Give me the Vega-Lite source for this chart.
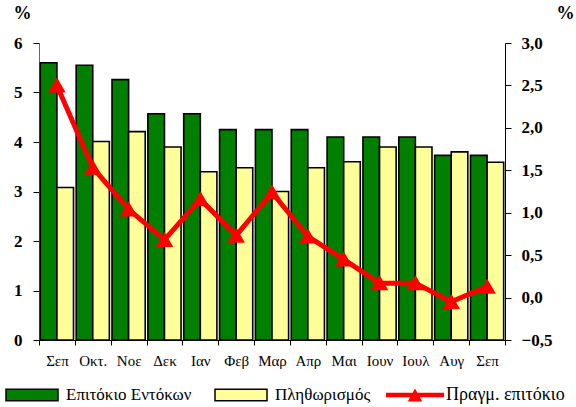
{
  "$schema": "https://vega.github.io/schema/vega-lite/v6.json",
  "width": 466,
  "height": 297,
  "autosize": {"type": "none"},
  "padding": {"left": 39, "top": 43, "right": 71, "bottom": 67},
  "background": "white",
  "config": {
    "view": {"stroke": null},
    "font": "Liberation Serif",
    "axis": {"grid": false, "domainColor": "black", "tickColor": "black", "labelColor": "black", "titleColor": "black", "domainWidth": 1, "tickWidth": 1, "labelFont": "Liberation Serif", "titleFont": "Liberation Serif"},
    "legend": {"labelFont": "Liberation Serif"}
  },
  "data": {
    "values": [
      {"period": "Σεπ_1", "Επιτόκιο Εντόκων": 5.6, "Πληθωρισμός": 3.08, "real": 2.5},
      {"period": "Οκτ.", "Επιτόκιο Εντόκων": 5.55, "Πληθωρισμός": 4.01, "real": 1.53},
      {"period": "Νοε", "Επιτόκιο Εντόκων": 5.26, "Πληθωρισμός": 4.21, "real": 1.04},
      {"period": "Δεκ", "Επιτόκιο Εντόκων": 4.57, "Πληθωρισμός": 3.9, "real": 0.68},
      {"period": "Ιαν", "Επιτόκιο Εντόκων": 4.57, "Πληθωρισμός": 3.4, "real": 1.16},
      {"period": "Φεβ", "Επιτόκιο Εντόκων": 4.25, "Πληθωρισμός": 3.48, "real": 0.73},
      {"period": "Μαρ", "Επιτόκιο Εντόκων": 4.25, "Πληθωρισμός": 3.0, "real": 1.24},
      {"period": "Απρ", "Επιτόκιο Εντόκων": 4.25, "Πληθωρισμός": 3.48, "real": 0.72},
      {"period": "Μαι", "Επιτόκιο Εντόκων": 4.1, "Πληθωρισμός": 3.6, "real": 0.45},
      {"period": "Ιουν", "Επιτόκιο Εντόκων": 4.1, "Πληθωρισμός": 3.9, "real": 0.17},
      {"period": "Ιουλ", "Επιτόκιο Εντόκων": 4.1, "Πληθωρισμός": 3.9, "real": 0.17},
      {"period": "Αυγ", "Επιτόκιο Εντόκων": 3.73, "Πληθωρισμός": 3.8, "real": -0.05},
      {"period": "Σεπ_2", "Επιτόκιο Εντόκων": 3.73, "Πληθωρισμός": 3.59, "real": 0.13}
    ]
  },
  "encoding": {
    "x": {
      "field": "period",
      "type": "nominal",
      "sort": null,
      "scale": {"paddingInner": 0, "paddingOuter": 0},
      "axis": {
        "title": null,
        "labelExpr": "split(datum.label, '_')[0]",
        "labelAngle": 0,
        "labelFontSize": 15,
        "labelBaseline": "top",
        "tickBand": "extent",
        "tickSize": 5,
        "labelPadding": 8
      }
    }
  },
  "layer": [
    {
      "transform": [{"fold": ["Επιτόκιο Εντόκων", "Πληθωρισμός"], "as": ["series", "value"]}],
      "mark": {"type": "bar", "stroke": "black", "strokeWidth": 1.6},
      "encoding": {
        "xOffset": {"field": "series", "type": "nominal", "sort": null, "scale": {"paddingInner": 0, "paddingOuter": 0.08}},
        "y": {
          "field": "value",
          "type": "quantitative",
          "scale": {"domain": [0, 6], "nice": false},
          "axis": {
            "title": "%",
            "titleAngle": 0,
            "titleX": -17,
            "titleY": -30,
            "titleFontSize": 18,
            "titleFontWeight": "bold",
            "titleAlign": "center",
            "titleBaseline": "middle",
            "values": [0, 1, 2, 3, 4, 5, 6],
            "labelFontSize": 17,
            "labelFontWeight": "bold",
            "tickSize": 6,
            "labelPadding": 11,
            "domainColor": "#666666"
          }
        },
        "fill": {
          "field": "series",
          "type": "nominal",
          "sort": null,
          "scale": {"domain": ["Επιτόκιο Εντόκων", "Πληθωρισμός"], "range": ["#007F00", "#FFFF99"]},
          "legend": {
            "orient": "none",
            "legendX": -34,
            "legendY": 344,
            "direction": "horizontal",
            "title": null,
            "symbolType": "M-1,-0.22H1V0.22H-1Z",
            "symbolSize": 2704,
            "symbolStrokeColor": "black",
            "symbolStrokeWidth": 1.5,
            "labelFontSize": 17,
            "labelColor": "black",
            "labelOffset": 7,
            "columnPadding": 22,
            "clipHeight": 16
          }
        }
      }
    },
    {
      "mark": {
        "type": "line",
        "color": "#FF0000",
        "strokeWidth": 5,
        "point": {"shape": "triangle-up", "filled": true, "size": 200, "color": "#FF0000"}
      },
      "encoding": {
        "y": {
          "field": "real",
          "type": "quantitative",
          "scale": {"domain": [-0.5, 3], "nice": false},
          "axis": {
            "orient": "right",
            "title": "%",
            "titleAngle": 0,
            "titleX": 60,
            "titleY": -30,
            "titleFontSize": 18,
            "titleFontWeight": "bold",
            "titleAlign": "center",
            "titleBaseline": "middle",
            "values": [-0.5, 0, 0.5, 1, 1.5, 2, 2.5, 3],
            "format": ".1f",
            "labelExpr": "replace(datum.label, '.', ',')",
            "labelFontSize": 17,
            "labelFontWeight": "bold",
            "tickSize": 6,
            "labelPadding": 10
          }
        },
        "stroke": {
          "datum": "Πραγμ. επιτόκιο",
          "type": "nominal",
          "scale": {"range": ["#FF0000"]},
          "legend": {
            "orient": "none",
            "legendX": 347,
            "legendY": 344,
            "title": null,
            "symbolType": "M-1,-0.08H1V0.08H-1Z M-0.25,0.22L0,-0.22L0.25,0.22Z",
            "symbolSize": 3364,
            "symbolFillColor": "#FF0000",
            "symbolStrokeColor": "#FF0000",
            "symbolStrokeWidth": 0,
            "labelFontSize": 18,
            "labelColor": "black",
            "labelOffset": 2,
            "clipHeight": 16
          }
        }
      }
    }
  ],
  "resolve": {"scale": {"y": "independent"}}
}
